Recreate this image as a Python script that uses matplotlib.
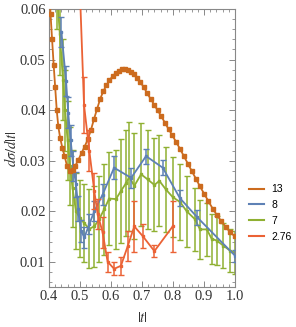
import numpy as np
import matplotlib
matplotlib.use("Agg")
import matplotlib.pyplot as plt
from matplotlib.ticker import MultipleLocator

plt.rcParams["mathtext.fontset"] = "stix"

# |t| = 13
t13 = [0.400, 0.405, 0.410, 0.415, 0.420, 0.425, 0.430, 0.436, 0.443, 0.450,
       0.458, 0.467, 0.476, 0.485, 0.495, 0.505, 0.515, 0.525, 0.535, 0.545,
       0.555, 0.565, 0.575, 0.585, 0.595, 0.605, 0.615, 0.625, 0.635, 0.645,
       0.655, 0.665, 0.675, 0.685, 0.695, 0.706, 0.717, 0.728, 0.739, 0.750,
       0.762, 0.774, 0.786, 0.798, 0.810, 0.822, 0.835, 0.848, 0.861, 0.874,
       0.887, 0.900, 0.914, 0.928, 0.942, 0.956, 0.970, 0.985, 1.000]
y13 = [0.066, 0.059, 0.054, 0.049, 0.0445, 0.040, 0.0368, 0.0345, 0.0326, 0.0310,
       0.0290, 0.0279, 0.0282, 0.0290, 0.0302, 0.0315, 0.0328, 0.0342, 0.0360, 0.0382,
       0.0402, 0.0422, 0.0437, 0.0449, 0.0459, 0.0467, 0.0473, 0.0478, 0.0481, 0.0481,
       0.0479, 0.0476, 0.0471, 0.0464, 0.0455, 0.0445, 0.0433, 0.0422, 0.0411, 0.0400,
       0.0388, 0.0375, 0.0362, 0.0350, 0.0337, 0.0324, 0.0309, 0.0294, 0.0279, 0.0264,
       0.0249, 0.0235, 0.0220, 0.0205, 0.0192, 0.0180, 0.0169, 0.0158, 0.0150]

# 8
t8 = [0.440, 0.455, 0.462, 0.470, 0.478, 0.487, 0.495, 0.503, 0.514, 0.530,
      0.546, 0.573, 0.610, 0.665, 0.713, 0.767, 0.822, 0.878, 1.000]
y8 = [0.0555, 0.0458, 0.0395, 0.0340, 0.0290, 0.0253, 0.0205, 0.0161, 0.0148, 0.0174,
      0.0200, 0.0233, 0.0286, 0.0266, 0.0309, 0.0286, 0.0226, 0.0188, 0.0112]
e8 = [0.003, 0.003, 0.003, 0.003, 0.003, 0.0025, 0.0025, 0.0022, 0.002, 0.002,
      0.002, 0.002, 0.0023, 0.002, 0.0015, 0.0015, 0.0015, 0.0015, 0.0012]

# 7
t7 = [0.425, 0.435, 0.445, 0.452, 0.460, 0.468, 0.476, 0.487, 0.500, 0.514,
      0.530, 0.546, 0.562, 0.578, 0.594, 0.616, 0.632, 0.648, 0.659, 0.675,
      0.697, 0.718, 0.740, 0.756, 0.777, 0.799, 0.823, 0.844, 0.871, 0.887,
      0.909, 0.925, 0.941, 0.962, 0.984, 1.000]
y7 = [0.064, 0.055, 0.046, 0.040, 0.034, 0.029, 0.0245, 0.0200, 0.0186, 0.0176,
      0.0165, 0.0170, 0.0184, 0.0204, 0.0225, 0.0224, 0.0240, 0.0255, 0.0268, 0.0250,
      0.0273, 0.0263, 0.0252, 0.0260, 0.0243, 0.0228, 0.0218, 0.0200, 0.0184, 0.0164,
      0.0164, 0.0145, 0.0142, 0.0132, 0.0122, 0.0118]
e7 = [0.008, 0.008, 0.008, 0.008, 0.0078, 0.0077, 0.0076, 0.0075, 0.0076, 0.0077,
      0.0078, 0.008, 0.0085, 0.009, 0.0092, 0.0098, 0.0102, 0.0105, 0.0108, 0.0105,
      0.0102, 0.0098, 0.0092, 0.009, 0.0085, 0.008, 0.0075, 0.007, 0.0062, 0.0058,
      0.0052, 0.005, 0.0048, 0.0045, 0.0043, 0.0042]

# 2.76
t276 = [0.490, 0.513, 0.530, 0.546, 0.557, 0.573, 0.589, 0.610, 0.632, 0.654,
        0.675, 0.702, 0.740, 0.799]
y276 = [0.080, 0.0410, 0.0320, 0.0240, 0.0194, 0.0158, 0.0100, 0.0086, 0.0092, 0.0131,
        0.0170, 0.0151, 0.0121, 0.0170]
e276 = [0.006, 0.0055, 0.004, 0.0035, 0.003, 0.003, 0.002, 0.0013, 0.0018, 0.003,
        0.005, 0.0023, 0.0012, 0.005]

labels = ["13", "8", "7", "2.76"]
colors = ["#CC6B1E", "#5E81B5", "#8FB032", "#EB6235"]
xticks = ["0.4", "0.5", "0.6", "0.7", "0.8", "0.9", "1.0"]
yticks = ["0.01", "0.02", "0.03", "0.04", "0.05", "0.06"]

fig = plt.figure(figsize=(2.96, 3.27), dpi=100)
ax = fig.add_axes([0.1655, 0.1223, 0.6285, 0.850])

ax.plot(t13, y13, color=colors[0], lw=1.3, marker="s", ms=3.3, zorder=4, label=labels[0])
ax.errorbar(t8, y8, yerr=e8, color=colors[1], lw=1.3, marker="s", ms=2.0,
            capsize=2.2, elinewidth=1.1, zorder=3, label=labels[1])
ax.errorbar(t7, y7, yerr=e7, color=colors[2], lw=1.3, marker="s", ms=2.0,
            capsize=2.2, elinewidth=1.1, zorder=2, label=labels[2])
ax.errorbar(t276, y276, yerr=e276, color=colors[3], lw=1.3, marker="s", ms=2.0,
            capsize=2.2, elinewidth=1.1, zorder=5, label=labels[3])

ax.set_xlim(0.4, 1.0)
ax.set_ylim(0.005, 0.06)
ax.set_xticks(np.arange(0.4, 1.01, 0.1))
ax.set_xticklabels(xticks, family="Liberation Serif", fontsize=10.5)
ax.set_yticks(np.arange(0.01, 0.061, 0.01))
ax.set_yticklabels(yticks, family="Liberation Serif", fontsize=10.5)
ax.xaxis.set_minor_locator(MultipleLocator(0.02))
ax.yaxis.set_minor_locator(MultipleLocator(0.002))
ax.tick_params(which="both", direction="in", top=True, right=True,
               color="#888888", labelcolor="#333333")
ax.tick_params(which="major", length=4, width=0.7, pad=2.5)
ax.tick_params(which="minor", length=2, width=0.6)
for sp in ax.spines.values():
    sp.set_color("#888888")
    sp.set_linewidth(0.8)

ax.set_xlabel(r"$|t|$", fontsize=10.5, color="#333333", labelpad=5)
ax.set_ylabel(r"$d\sigma/d|t|$", fontsize=10.5, color="#333333", labelpad=1)

handles = [plt.Line2D([], [], color=c, lw=1.5) for c in colors]
fig.legend(handles, labels, loc="upper left", bbox_to_anchor=(0.81, 0.465),
           frameon=False, handlelength=1.4, handletextpad=0.7,
           labelspacing=0.55, prop={"family": "Liberation Sans", "size": 7.5})

fig.savefig("out.png", dpi=100)
